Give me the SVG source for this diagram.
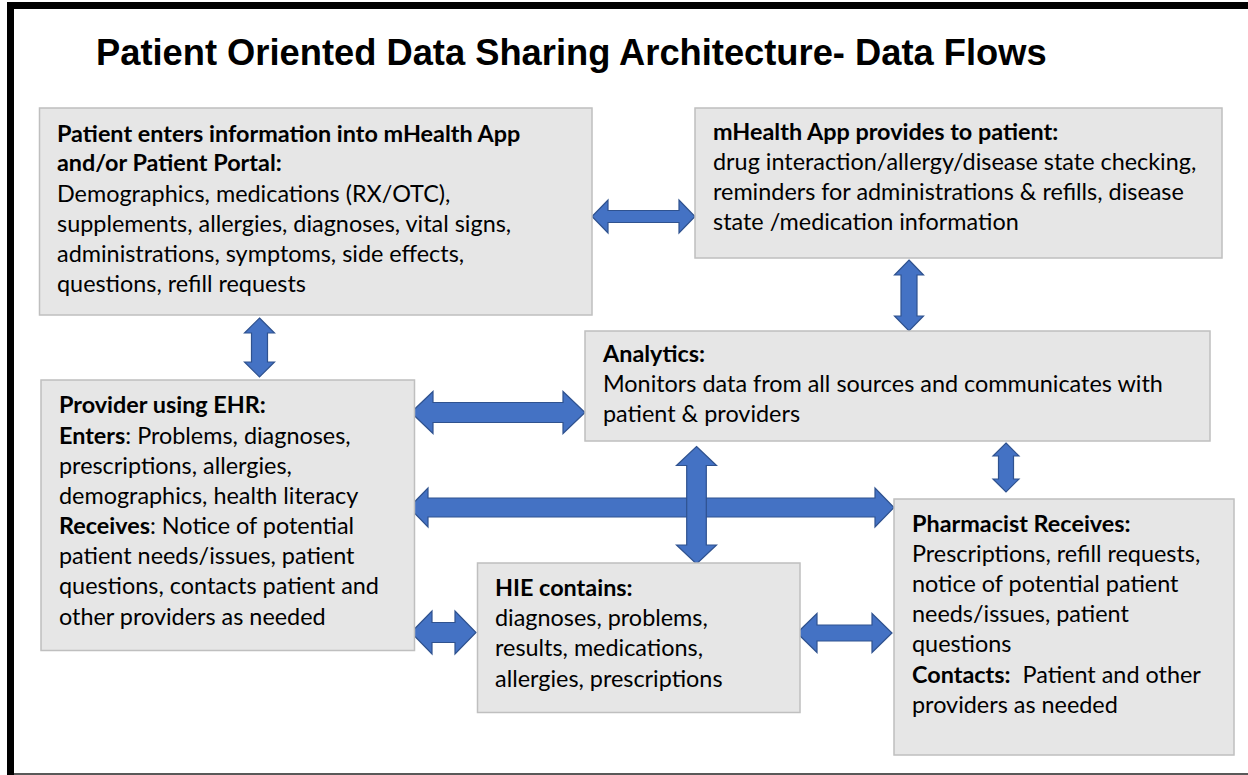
<svg xmlns="http://www.w3.org/2000/svg" width="1248" height="775" viewBox="0 0 1248 775">
  <style>
    .box { fill: #e6e6e6; stroke: #bfbfbf; stroke-width: 1.5; }
    .arrow { fill: #4472c4; stroke: #2f528f; stroke-width: 1.2; stroke-linejoin: miter; }
    .title { font-family: "Liberation Sans", Arial, sans-serif; font-weight: bold; font-size: 36.3px; fill: #000; }
    .t { font-family: Lato, "Open Sans", sans-serif; font-size: 23.4px; fill: #000; }
    .b { font-weight: bold; }
  </style>

  <rect x="0" y="0" width="1248" height="775" fill="#fff"/>
  <!-- frame -->
  <rect x="7" y="2" width="1241" height="7" fill="#000"/>
  <rect x="7" y="2" width="7" height="773" fill="#000"/>
  <rect x="14" y="773" width="1234" height="2" fill="#595959"/>

  <text class="title" x="96" y="65">Patient Oriented Data Sharing Architecture- Data Flows</text>

  <!-- connectors -->
  <g id="connectors">
    <!-- patient entry <-> mHealth app -->
    <polygon class="arrow" points="592,216.5 608,200 608,210.5 679,210.5 679,200 695,216.5 679,233 679,222.5 608,222.5 608,233"/>
    <!-- mHealth app <-> analytics -->
    <polygon class="arrow" points="909,260 923.5,275 917,275 917,316 923.5,316 909,331 894.5,316 901,316 901,275 894.5,275"/>
    <!-- patient entry <-> provider EHR -->
    <polygon class="arrow" points="259.5,318 274.5,333 267.5,333 267.5,362 274.5,362 259.5,377 244.5,362 251.5,362 251.5,333 244.5,333"/>
    <!-- provider EHR <-> analytics -->
    <polygon class="arrow" points="411,412.5 433,391.5 433,402.5 563,402.5 563,391.5 585,412.5 563,433.5 563,422.5 433,422.5 433,433.5"/>
    <!-- provider EHR <-> pharmacist -->
    <polygon class="arrow" points="409,507.5 428,488 428,498 875,498 875,488 894,507.5 875,527 875,517 428,517 428,527"/>
    <!-- analytics <-> HIE -->
    <polygon class="arrow" points="696.5,446.5 716.5,465.5 706.3,465.5 706.3,545 716.5,545 696.5,564 676.5,545 686.7,545 686.7,465.5 676.5,465.5"/>
    <!-- analytics <-> pharmacist -->
    <polygon class="arrow" points="1006,443 1019,456 1013.5,456 1013.5,479 1019,479 1006,492 993,479 998.5,479 998.5,456 993,456"/>
    <!-- provider EHR <-> HIE -->
    <polygon class="arrow" points="411,632.5 432,611 432,622.5 455,622.5 455,611 476,632.5 455,654 455,642.5 432,642.5 432,654"/>
    <!-- HIE <-> pharmacist -->
    <polygon class="arrow" points="797,633 817,613.5 817,625 872,625 872,613.5 892,633 872,652.5 872,641 817,641 817,652.5"/>
  </g>

  <g id="patient-entry">
    <rect class="box" x="39.5" y="108" width="552.5" height="207"/>
    <text class="t b" x="57" y="141.5">Patient enters information into mHealth App</text>
    <text class="t b" x="57" y="171">and/or Patient Portal:</text>
    <text class="t" x="57" y="201.5">Demographics, medications (RX/OTC),</text>
    <text class="t" x="57" y="231.5">supplements, allergies, diagnoses, vital signs,</text>
    <text class="t" x="57" y="261.5">administrations, symptoms, side effects,</text>
    <text class="t" x="57" y="291.5">questions, refill requests</text>
  </g>

  <g id="mhealth-app">
    <rect class="box" x="695" y="108" width="527" height="150"/>
    <text class="t b" x="713" y="140">mHealth App provides to patient:</text>
    <text class="t" x="713" y="170">drug interaction/allergy/disease state checking,</text>
    <text class="t" x="713" y="200">reminders for administrations &amp; refills, disease</text>
    <text class="t" x="713" y="230">state /medication information</text>
  </g>

  <g id="analytics">
    <rect class="box" x="585" y="331" width="625" height="110"/>
    <text class="t b" x="603" y="362">Analytics:</text>
    <text class="t" x="603" y="392">Monitors data from all sources and communicates with</text>
    <text class="t" x="603" y="422">patient &amp; providers</text>
  </g>

  <g id="provider-ehr">
    <rect class="box" x="41" y="380" width="373.5" height="270.5"/>
    <text class="t b" x="59" y="413">Provider using EHR:</text>
    <text class="t" x="59" y="444"><tspan class="b">Enters</tspan>: Problems, diagnoses,</text>
    <text class="t" x="59" y="474">prescriptions, allergies,</text>
    <text class="t" x="59" y="503.5">demographics, health literacy</text>
    <text class="t" x="59" y="534"><tspan class="b">Receives</tspan>: Notice of potential</text>
    <text class="t" x="59" y="564">patient needs/issues, patient</text>
    <text class="t" x="59" y="594">questions, contacts patient and</text>
    <text class="t" x="59" y="624.5">other providers as needed</text>
  </g>

  <g id="hie">
    <rect class="box" x="477.5" y="563" width="322.5" height="149.5"/>
    <text class="t b" x="495" y="596">HIE contains:</text>
    <text class="t" x="495" y="626">diagnoses, problems,</text>
    <text class="t" x="495" y="656">results, medications,</text>
    <text class="t" x="495" y="686.5">allergies, prescriptions</text>
  </g>

  <g id="pharmacist">
    <rect class="box" x="894" y="499" width="340" height="256"/>
    <text class="t b" x="912" y="531.5">Pharmacist Receives:</text>
    <text class="t" x="912" y="561.5">Prescriptions, refill requests,</text>
    <text class="t" x="912" y="592">notice of potential patient</text>
    <text class="t" x="912" y="622">needs/issues, patient</text>
    <text class="t" x="912" y="652">questions</text>
    <text class="t" x="912" y="682.5"><tspan class="b">Contacts:</tspan><tspan dx="12">Patient and other</tspan></text>
    <text class="t" x="912" y="713">providers as needed</text>
  </g>
</svg>
